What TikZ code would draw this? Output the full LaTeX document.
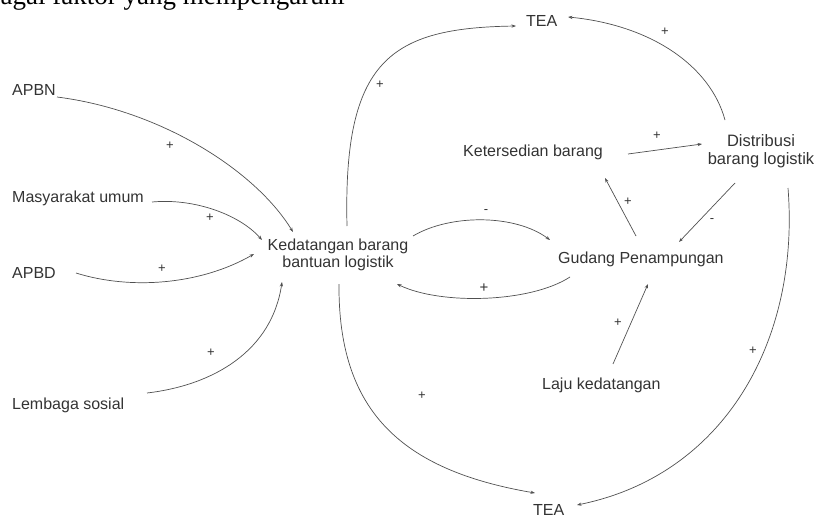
\documentclass[tikz,border=0pt]{standalone}
\usepackage{fontspec}
\setmainfont{Liberation Sans}
\newfontfamily\headserif{Liberation Serif}
\usetikzlibrary{arrows.meta}
\definecolor{ink}{HTML}{333333}
\definecolor{wire}{HTML}{505050}
\begin{document}
\begin{tikzpicture}[x=1pt,y=1pt,
  lbl/.style={inner sep=0pt, text=ink, font=\fontsize{16}{17}\selectfont},
  sign/.style={inner sep=0pt, text=ink, font=\fontsize{13}{13}\selectfont},
  link/.style={draw=wire, line width=0.7pt, -{Stealth[length=4.5pt,width=3.2pt]}},
]
\useasboundingbox (0,0) rectangle (814,-516);

% running heading, cut by the page edge
\node[anchor=base west, inner sep=0pt, text=black, font=\headserif\fontsize{27}{27}\selectfont] (head) at (-52,-4.5) {Berbagai faktor yang mempengaruhi};

% variables
\node[lbl, anchor=base west] (teaT) at (526,-26.5) {TEA};
\node[lbl, anchor=base west] (apbn) at (12,-95.5) {APBN};
\node[lbl, anchor=base west] (masy) at (12,-202) {Masyarakat umum};
\node[lbl, anchor=base west] (apbd) at (12,-278) {APBD};
\node[lbl, anchor=base west] (lemb) at (12,-409) {Lembaga sosial};
\node[lbl, align=center] (kb) at (338,-254.4) {Kedatangan barang\\bantuan logistik};
\node[lbl, anchor=base west] (gud) at (558,-263.5) {Gudang Penampungan};
\node[lbl, anchor=base west] (kets) at (463,-156.5) {Ketersedian barang};
\node[lbl, align=center, font=\fontsize{16.5}{18}\selectfont] (dist) at (761,-151) {Distribusi\\barang logistik};
\node[lbl, anchor=base west] (laju) at (542,-389.5) {Laju kedatangan};
\node[lbl, anchor=base west] (teaB) at (533,-515) {TEA};

% causal links
\draw[link] ([shift={(45,-1.5)}]apbn.base west) .. controls (160,-110) and (255,-170) .. ([shift={(-45,22.4)}]kb.center);
\draw[link] ([shift={(140,0)}]masy.base west) .. controls (195,-198) and (240,-215) .. ([shift={(-76,14.4)}]kb.center);
\draw[link] ([shift={(64,5)}]apbd.base west) .. controls (130,-290) and (200,-285) .. ([shift={(-84,0.4)}]kb.center);
\draw[link] ([shift={(135,16)}]lemb.base west) .. controls (215,-385) and (272,-350) .. ([shift={(-56,-27.6)}]kb.center);
\draw[link] ([shift={(9,28.4)}]kb.center) .. controls (343,-60) and (390,-28) .. ([shift={(-10,0.5)}]teaT.base west);
\draw[link] ([shift={(1,-29.6)}]kb.center) .. controls (338,-410) and (400,-470) .. ([shift={(2,22)}]teaB.base west);
\draw[link] ([shift={(75,18.4)}]kb.center) .. controls (450,-214) and (515,-214) .. ([shift={(-8,23.5)}]gud.base west);
\draw[link] ([shift={(12,-13.5)}]gud.base west) .. controls (530,-303) and (440,-305) .. ([shift={(59,-29.6)}]kb.center);
\draw[link] ([shift={(78,27.5)}]gud.base west) -- ([shift={(142,-21.5)}]kets.base west);
\draw[link] ([shift={(165,2.5)}]kets.base west) -- ([shift={(-59,7)}]dist.center);
\draw[link] ([shift={(-26,-32)}]dist.center) -- ([shift={(121,21.5)}]gud.base west);
\draw[link] ([shift={(-36,31)}]dist.center) .. controls (710,-65) and (650,-25) .. ([shift={(42,9.5)}]teaT.base west);
\draw[link] ([shift={(27,-37)}]dist.center) .. controls (800,-340) and (725,-475) .. ([shift={(44,10)}]teaB.base west);
\draw[link] ([shift={(71,25.5)}]laju.base west) -- ([shift={(90,-20.5)}]gud.base west);

% polarity marks
\node[sign] (s1) at (170,-146) {+};
\node[sign] (s2) at (210,-218) {+};
\node[sign] (s3) at (162,-269) {+};
\node[sign] (s4) at (211,-353) {+};
\node[sign] (s5) at (380,-85) {+};
\node[sign] (s6) at (422,-396) {+};
\node[sign] (s7) at (486,-212) {-};
\node[sign, font=\fontsize{15}{15}\selectfont] (s8) at (484,-288) {+};
\node[sign] (s9) at (628,-202) {+};
\node[sign] (s10) at (657,-136) {+};
\node[sign] (s11) at (712,-221) {-};
\node[sign] (s12) at (665,-32) {+};
\node[sign] (s13) at (753,-351) {+};
\node[sign] (s14) at (618,-323) {+};
\end{tikzpicture}
\end{document}
